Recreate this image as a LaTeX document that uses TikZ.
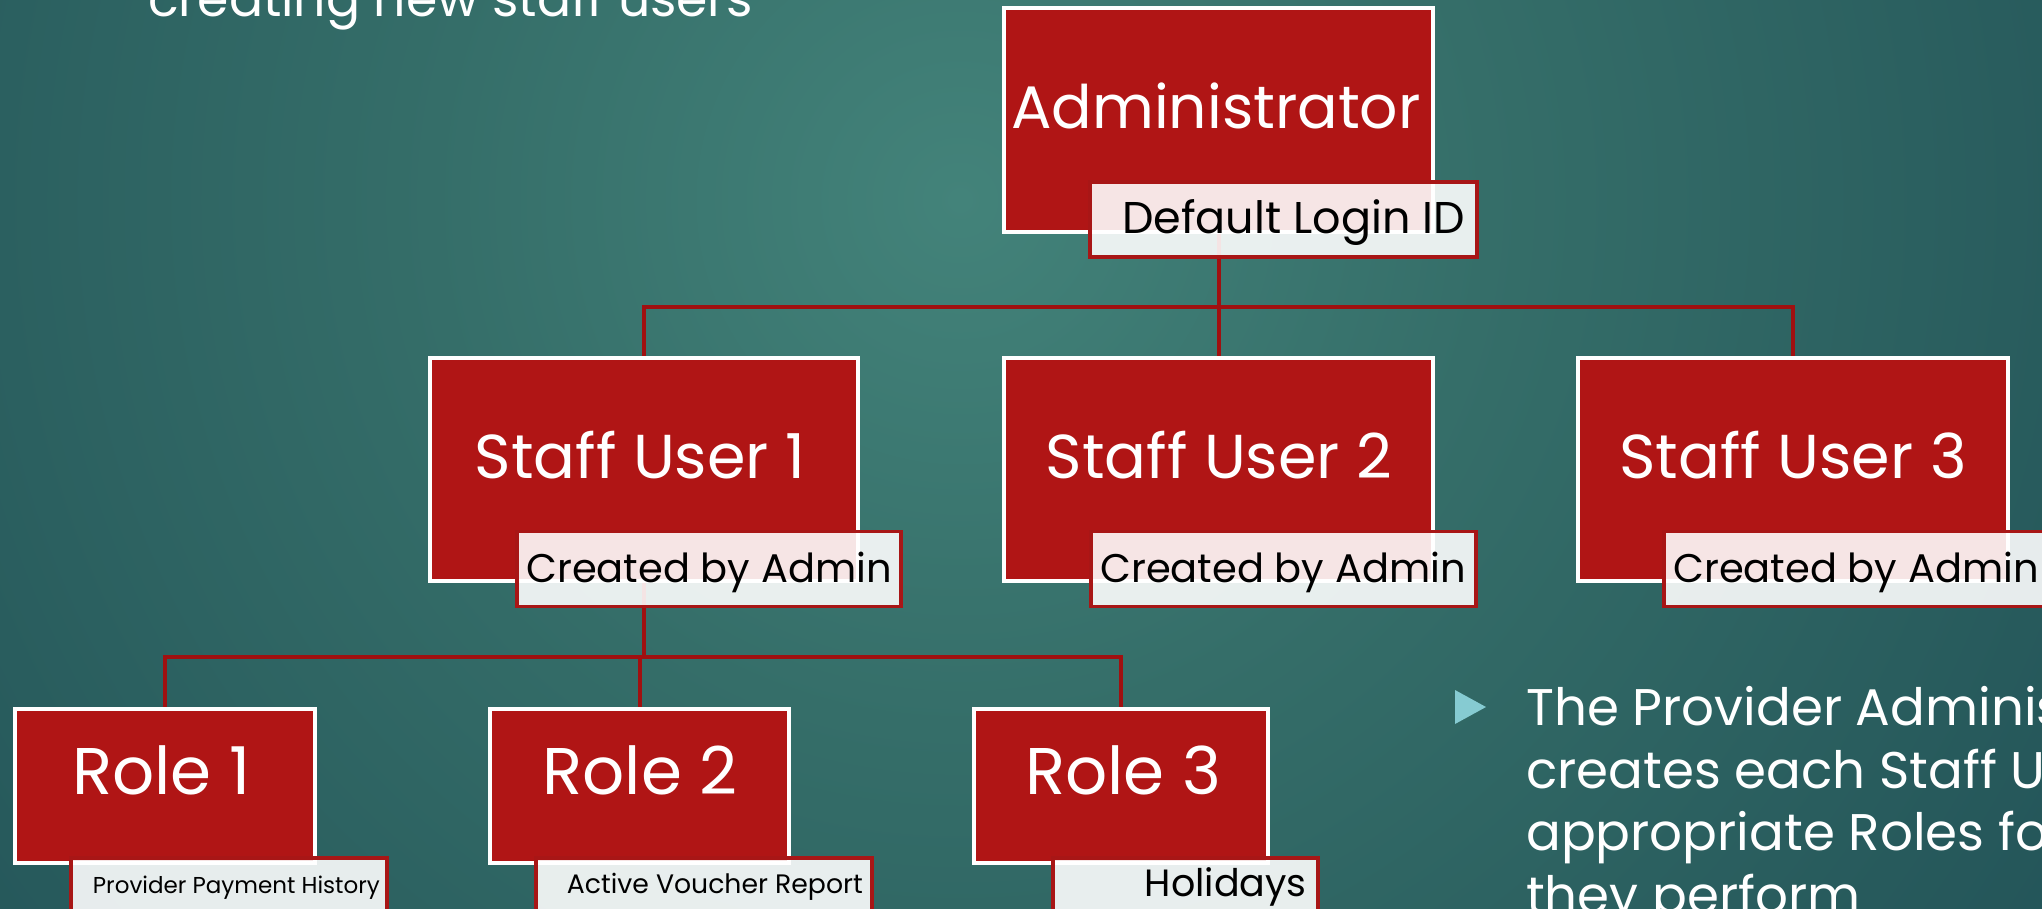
\documentclass[tikz,border=0pt]{standalone}
\usepackage{fontspec}
\setmainfont{Poppins}
\usetikzlibrary{calc}

% palette
\definecolor{boxred}{HTML}{B01515}
\definecolor{wirered}{HTML}{A01010}
\definecolor{tagedge}{HTML}{A81616}
\definecolor{bulletcyan}{HTML}{86CBD2}
\definecolor{glowA}{HTML}{43837A}
\definecolor{glowB}{HTML}{356E69}
\definecolor{glowC}{HTML}{275A5C}
\definecolor{glowD}{HTML}{1B4852}
\definecolor{glowE}{HTML}{163F4A}

\pgfdeclareradialshading{slideglow}{\pgfpoint{0bp}{0bp}}{%
  color(0bp)=(glowA); color(6bp)=(glowB); color(13bp)=(glowC);
  color(20bp)=(glowD); color(50bp)=(glowE)}

\pgfdeclarelayer{backdrop}
\pgfdeclarelayer{wires}
\pgfsetlayers{backdrop,wires,main}

\newcommand{\sizeto}[1]{\fontsize{#1pt}{#1pt}\selectfont}

\tikzset{
  mainbox/.style={draw=white, line width=3.5pt, fill=boxred, inner sep=0pt},
  tagbox/.style={draw=tagedge, line width=3.5pt, fill=white, fill opacity=0.89,
                 inner sep=0pt, minimum height=75pt},
  maintext/.style={text=white, inner sep=0pt, anchor=base, font=\sizeto{62}},
  roletext/.style={maintext, font=\sizeto{66}},
  tagtext/.style={text=black, inner sep=0pt, anchor=base east, font=\sizeto{40}},
  smalltag/.style={tagtext, font=\sizeto{23}},
  bodytext/.style={text=white, inner sep=0pt, anchor=base west, font=\sizeto{51.5}},
  wire/.style={draw=wirered, line width=4pt},
}

\begin{document}
\begin{tikzpicture}[x=1pt,y=-1pt]
\useasboundingbox (0,0) rectangle (2042,908);
\clip (0,0) rectangle (2042,908);

\begin{pgfonlayer}{backdrop}
  \fill[glowE] (0,0) rectangle (2042,908);
  \shade[shading=slideglow] (960,200) circle (2200pt);
\end{pgfonlayer}

% heading fragment and bullet text
\node[bodytext, font=\sizeto{50.5}] (heading) at (148,16) {creating new staff users};
\fill[bulletcyan] (1455,690) -- (1486,707) -- (1455,724) -- cycle;
\node[bodytext] (body1) at (1526,725) {The Provider Administrator};
\node[bodytext] (body2) at (1526,788) {creates each Staff User};
\node[bodytext] (body3) at (1526,850) {appropriate Roles for};
\node[bodytext] (body4) at (1526,913) {they perform};

% top level
\node[mainbox, minimum width=429pt, minimum height=224pt] (admin) at (1218.5,120) {};
\node[maintext, font=\sizeto{60}] (adminlbl) at (1216,128) {Administrator};
\node[tagbox, minimum width=387pt] (admintag) at (1283.5,219.5) {};
\node[tagtext, font=\sizeto{44.5}] (admintaglbl) at (1465,233) {Default Login ID};

% staff users
\node[mainbox, minimum width=428pt, minimum height=223pt] (staff1) at (644,469.5) {};
\node[mainbox, minimum width=429pt, minimum height=223pt] (staff2) at (1218.5,469.5) {};
\node[mainbox, minimum width=430pt, minimum height=223pt] (staff3) at (1793,469.5) {};
\node[maintext] (staff1lbl) at (640,478) {Staff User 1};
\node[maintext] (staff2lbl) at (1219,478) {Staff User 2};
\node[maintext] (staff3lbl) at (1793,478) {Staff User 3};
\node[tagbox, minimum width=384pt] (staff1tag) at (709,569) {};
\node[tagbox, minimum width=385pt] (staff2tag) at (1283.5,569) {};
\node[tagbox, minimum width=385pt] (staff3tag) at (1856.5,569) {};
\node[tagtext] (staff1taglbl) at (892,582) {Created by Admin};
\node[tagtext] (staff2taglbl) at (1466,582) {Created by Admin};
\node[tagtext] (staff3taglbl) at (2039,582) {Created by Admin};

% roles
\node[mainbox, minimum width=300pt, minimum height=154pt] (role1) at (165,786) {};
\node[mainbox, minimum width=299pt, minimum height=154pt] (role2) at (639.5,786) {};
\node[mainbox, minimum width=294pt, minimum height=154pt] (role3) at (1121,786) {};
\node[roletext] (role1lbl) at (161.5,794) {Role 1};
\node[roletext] (role2lbl) at (640,794) {Role 2};
\node[roletext] (role3lbl) at (1123,794) {Role 3};
\node[tagbox, minimum width=316pt] (role1tag) at (229,895.5) {};
\node[tagbox, minimum width=336pt] (role2tag) at (704,895.5) {};
\node[tagbox, minimum width=265pt] (role3tag) at (1185.5,895.5) {};
\node[smalltag] (role1taglbl) at (380,893) {Provider Payment History};
\node[smalltag, font=\sizeto{26.7}] (role2taglbl) at (863,893) {Active Voucher Report};
\node[tagtext, font=\sizeto{38}] (role3taglbl) at (1307,896) {Holidays};

% connectors
\coordinate (busA) at (0,307);
\coordinate (busB) at (0,657);
\begin{pgfonlayer}{wires}
  \draw[wire] (admin.center) -- (admin.center |- busA) -| (staff1.north);
  \draw[wire] (admin.center |- busA) -| (staff3.north);
  \draw[wire] (admin.center) -- (staff2.north);
  \draw[wire] (staff1.center) -- (staff1.center |- busB) -| (role1.north);
  \draw[wire] (staff1.center |- busB) -| (role3.north);
  \draw[wire] (role2.north) -- (role2.north |- busB);
\end{pgfonlayer}
\end{tikzpicture}
\end{document}
